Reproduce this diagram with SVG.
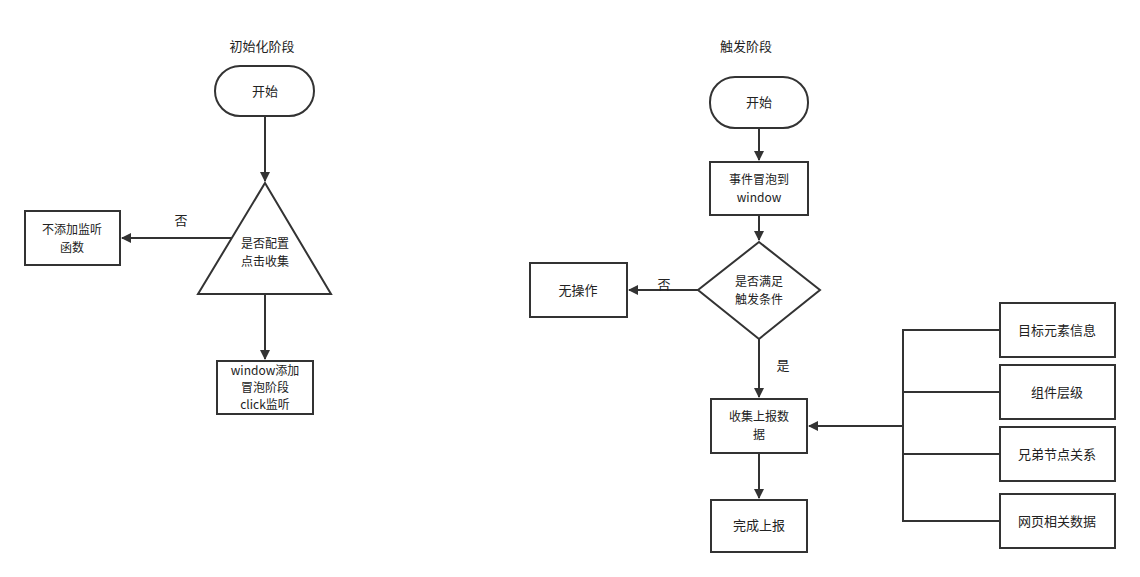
<svg xmlns="http://www.w3.org/2000/svg" width="1140" height="577" viewBox="0 0 1140 577">
<style>
.s{fill:#fff;stroke:#333;stroke-width:2}
.c{stroke:#333;stroke-width:2;fill:none}
.t{font-family:"Noto Sans CJK SC","Liberation Sans",sans-serif;font-size:13px;fill:#222;text-anchor:middle}
.m{font-size:12px}
</style>
<defs><marker id="a" viewBox="0 0 10 10" refX="9" refY="5" markerWidth="5" markerHeight="5" orient="auto"><path d="M0,0L10,5L0,10z" fill="#333"/></marker></defs>
<rect width="1140" height="577" fill="#fff"/>
<g id="connectors">
<path class="c" d="M265,116V181" marker-end="url(#a)"/>
<path class="c" d="M232,238H122" marker-end="url(#a)"/>
<path class="c" d="M265,294V359" marker-end="url(#a)"/>
<path class="c" d="M759,128V160" marker-end="url(#a)"/>
<path class="c" d="M759,215V240" marker-end="url(#a)"/>
<path class="c" d="M698,290H629" marker-end="url(#a)"/>
<path class="c" d="M759,339V397" marker-end="url(#a)"/>
<path class="c" d="M759,453V498" marker-end="url(#a)"/>
<path class="c" d="M903,426H809" marker-end="url(#a)"/>
<path class="c" stroke-width="1.5" d="M1000,330H903V521H1000M903,392H1000M903,454H1000"/>
<text class="t" x="181" y="225">否</text>
<text class="t" x="664" y="289">否</text>
<text class="t" x="783" y="370">是</text>
</g>
<text class="t" x="262" y="51">初始化阶段</text>
<text class="t" x="746" y="51">触发阶段</text>
<g id="start1"><rect class="s" x="215" y="66" width="99" height="50" rx="25"/><text class="t" x="265" y="96">开始</text></g>
<g id="cond1"><path class="s" d="M265,183L331,294H198z"/><text class="t m" x="265" y="248">是否配置</text><text class="t m" x="265" y="266">点击收集</text></g>
<g id="noadd"><rect class="s" x="25" y="211" width="95" height="54"/><text class="t m" x="72" y="234">不添加监听</text><text class="t m" x="72" y="252">函数</text></g>
<g id="addlisten"><rect class="s" x="217" y="361" width="96" height="53"/><text class="t m" x="265" y="375">window添加</text><text class="t m" x="265" y="392">冒泡阶段</text><text class="t m" x="265" y="409">click监听</text></g>
<g id="start2"><rect class="s" x="710" y="77" width="98" height="51" rx="25"/><text class="t" x="759" y="107">开始</text></g>
<g id="bubble"><rect class="s" x="710" y="162" width="98" height="53"/><text class="t m" x="759" y="184">事件冒泡到</text><text class="t m" x="759" y="202">window</text></g>
<g id="cond2"><path class="s" d="M759,242L820,290L759,339L698,290z"/><text class="t m" x="759" y="286">是否满足</text><text class="t m" x="759" y="304">触发条件</text></g>
<g id="noop"><rect class="s" x="530" y="263" width="97" height="54"/><text class="t" x="578" y="295">无操作</text></g>
<g id="collect"><rect class="s" x="711" y="399" width="96" height="54"/><text class="t m" x="759" y="421">收集上报数</text><text class="t m" x="759" y="439">据</text></g>
<g id="done"><rect class="s" x="711" y="500" width="96" height="52"/><text class="t" x="759" y="530">完成上报</text></g>
<g id="b1"><rect class="s" x="1000" y="303" width="115" height="54"/><text class="t" x="1057" y="335">目标元素信息</text></g>
<g id="b2"><rect class="s" x="1000" y="365" width="115" height="54"/><text class="t" x="1057" y="397">组件层级</text></g>
<g id="b3"><rect class="s" x="1000" y="427" width="115" height="54"/><text class="t" x="1057" y="459">兄弟节点关系</text></g>
<g id="b4"><rect class="s" x="1000" y="494" width="115" height="54"/><text class="t" x="1057" y="526">网页相关数据</text></g>
</svg>
